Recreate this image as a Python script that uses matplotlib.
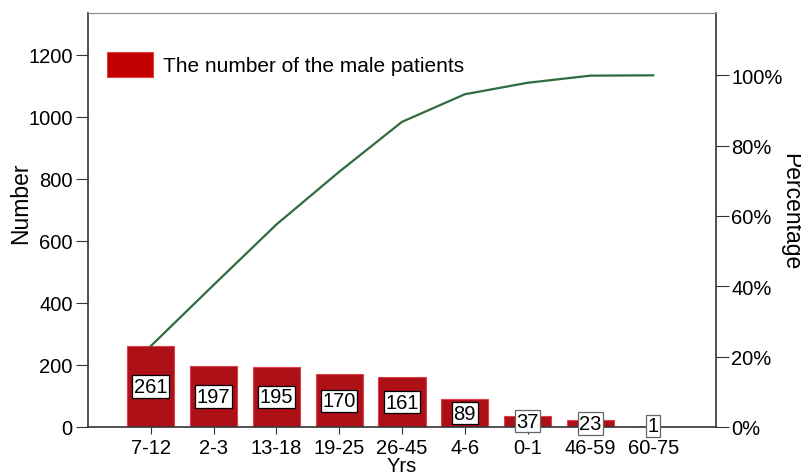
import matplotlib
matplotlib.use("Agg")
import matplotlib.pyplot as plt
import numpy as np

categories = ["7-12", "2-3", "13-18", "19-25", "26-45", "4-6", "0-1", "46-59", "60-75"]
counts = [261, 197, 195, 170, 161, 89, 37, 23, 1]
pct_ticks = [0, 20, 40, 60, 80, 100]

plt.rcParams['font.family'] = ['Liberation Sans', 'DejaVu Sans']

W, H = 801, 477
fig = plt.figure(figsize=(W/100, H/100), dpi=100)
ax = fig.add_axes([88/W, 1-428/H, (716-88)/W, (428-14)/H])

x = np.arange(len(categories))
total = sum(counts)
cum = np.cumsum(counts)

ax.bar(x, counts, width=0.75, color='#AE1018', edgecolor='#E0404A', linewidth=0.8, zorder=2,
       label='The number of the male patients')
ax.plot(x, cum, color='#2E6B3E', linewidth=1.6, zorder=3)

for i, v in enumerate(counts):
    ec = 'black' if v > 50 else '#666666'
    ax.text(x[i], max(v / 2, 4), str(v), ha='center', va='center', fontsize=14.5, zorder=4,
            bbox=dict(boxstyle='square,pad=0.08', facecolor='white', edgecolor=ec, linewidth=0.9))

ymax = 1335
ax.set_xlim(-1, len(categories))
ax.set_ylim(0, ymax)
ax.set_xticks(x)
ax.set_xticklabels(categories, fontsize=14.5)
ax.set_yticks(range(0, 1201, 200))
ax.tick_params(axis='y', labelsize=14.5, length=9, color='#333333', pad=2)
ax.tick_params(axis='x', length=5, color='#333333', pad=3)
ax.set_xlabel('Yrs', fontsize=14.5, labelpad=-1)
for s in ['left', 'bottom', 'right']:
    ax.spines[s].set_color('#333333')
    ax.spines[s].set_linewidth(1.2)
ax.spines['top'].set_color('#888888')

ax2 = ax.twinx()
ax2.set_ylim(0, ymax / total * 100)
ax2.set_yticks(pct_ticks)
ax2.set_yticklabels([f"{p}%" for p in pct_ticks], fontsize=14.5)
ax2.tick_params(axis='y', length=9, color='#333333', pad=2)
for s in ['left', 'bottom', 'right', 'top']:
    ax2.spines[s].set_visible(False)

fig.text(21/W, 1-203/H, 'Number', rotation=90, ha='center', va='center', fontsize=16.5)
fig.text(791/W, 1-212/H, 'Percentage', rotation=270, ha='center', va='center', fontsize=16.5)

leg = ax.legend(loc='upper left', bbox_to_anchor=(0.0, 0.95), frameon=False, fontsize=15,
                handlelength=2.2, handleheight=1.4, handletextpad=0.5)
for h in leg.legend_handles:
    h.set_facecolor('#C00000')
    h.set_edgecolor('#E04040')

fig.savefig('out.png', dpi=100)
